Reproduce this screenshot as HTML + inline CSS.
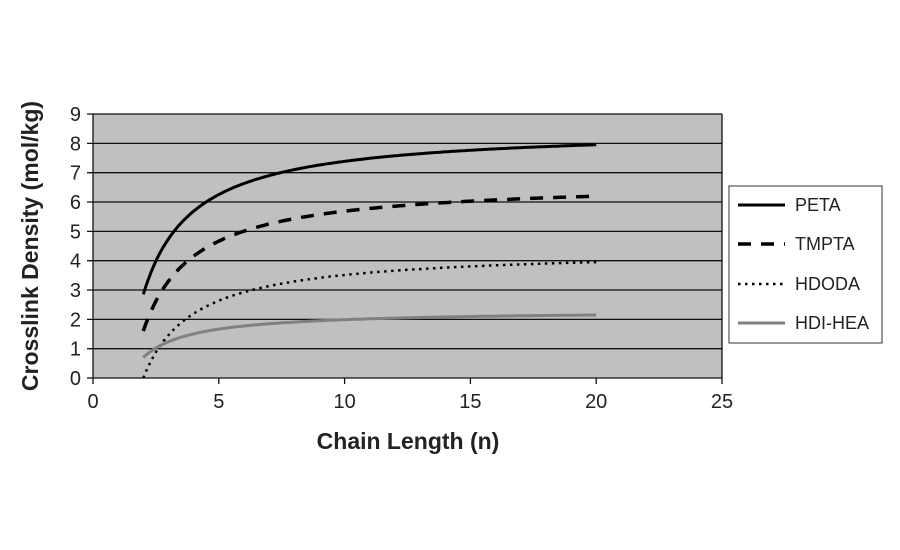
<!DOCTYPE html>
<html><head><meta charset="utf-8"><style>
body{margin:0;background:#fff;}
svg{display:block;font-family:"Liberation Sans",sans-serif;}
</style></head><body>
<svg id="s" width="900" height="550" viewBox="0 0 900 550">
<rect x="93" y="114" width="629" height="264" fill="#c0c0c0"/>
<g id="grid" stroke="#111" stroke-width="1.3"></g>
<g id="lab" font-size="20" fill="#222"></g>
<g id="curves" fill="none"></g>
<text x="408" y="449" font-size="23" font-weight="bold" text-anchor="middle" fill="#222">Chain Length (n)</text>
<text transform="translate(38,246) rotate(-90)" font-size="23" font-weight="bold" text-anchor="middle" fill="#222">Crosslink Density (mol/kg)</text>
<rect x="729" y="186" width="153" height="157" fill="#fff" stroke="#333" stroke-width="1"/>
<line x1="738" y1="205" x2="785" y2="205" stroke="#000" stroke-width="3"/>
<line x1="738" y1="244" x2="785" y2="244" stroke="#000" stroke-width="3.5" stroke-dasharray="13,10"/>
<line x1="738" y1="284" x2="785" y2="284" stroke="#000" stroke-width="2.5" stroke-dasharray="2.5,4.5"/>
<line x1="738" y1="323" x2="785" y2="323" stroke="#808080" stroke-width="3"/>
<g font-size="18" fill="#222">
<text x="795" y="211">PETA</text><text x="795" y="250">TMPTA</text><text x="795" y="290">HDODA</text><text x="795" y="329">HDI-HEA</text>
</g>
</svg>
<script>
var NS="http://www.w3.org/2000/svg";
function X(n){return 93+n*25.16;}function Y(v){return 378-v*29.33;}
function el(p,t,a,txt){var e=document.createElementNS(NS,t);for(var k in a)e.setAttribute(k,a[k]);if(txt!=null)e.textContent=txt;document.getElementById(p).appendChild(e);return e;}
for(var v=0;v<=9;v++){el("grid","line",{x1:87,x2:722,y1:Y(v),y2:Y(v)});el("lab","text",{x:81,y:Y(v)+7,"text-anchor":"end"},v);}
el("grid","line",{x1:93,x2:93,y1:114,y2:378});el("grid","line",{x1:722,x2:722,y1:114,y2:378});
for(var n=0;n<=25;n+=5){el("grid","line",{x1:X(n),x2:X(n),y1:378,y2:384});el("lab","text",{x:X(n),y:408,"text-anchor":"middle"},n);}
var S=[[8.52,11.33,"#000",3,""],[6.71,10.22,"#000",3.5,"13,10"],[4.39,8.78,"#000",2.5,"2.5,4.5"],[2.31,3.22,"#808080",3,""]];
S.forEach(function(s){var pts=[];for(var n=2;n<=20.001;n+=0.1){pts.push(X(n).toFixed(1)+","+Y(s[0]-s[1]/n).toFixed(1));}
var a={points:pts.join(" "),stroke:s[2],"stroke-width":s[3]};if(s[4])a["stroke-dasharray"]=s[4];el("curves","polyline",a);});
</script>
</body></html>
